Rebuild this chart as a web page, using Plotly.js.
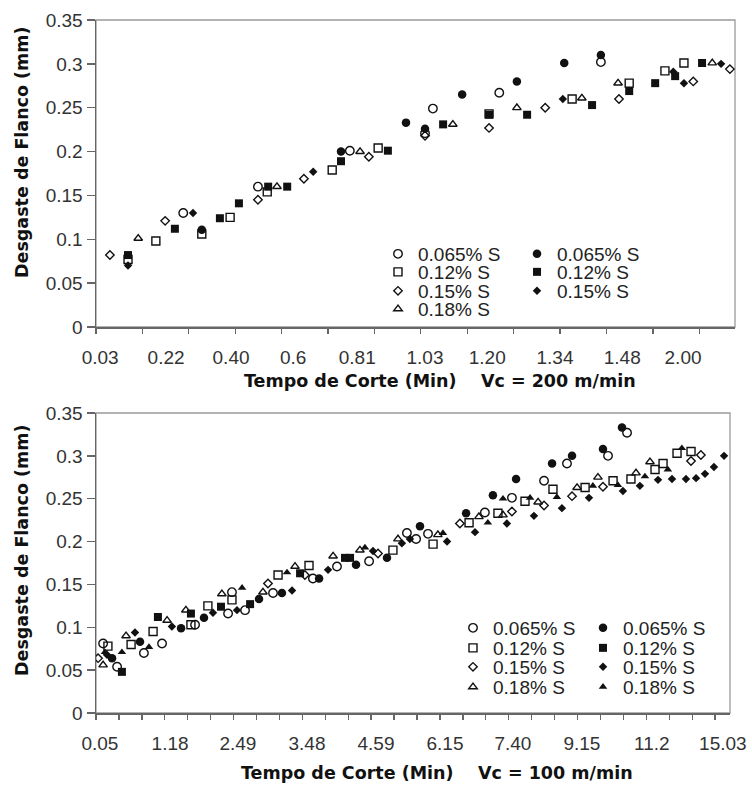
<!DOCTYPE html>
<html><head><meta charset="utf-8">
<script src="https://cdn.plot.ly/plotly-3.0.1.min.js"></script>
<style>html,body{margin:0;padding:0;background:#fff}#chart{width:752px;height:785px}</style>
</head><body><div id="chart"></div>
<script>
// ---- labels ----
const seriesNames = ['0.065% S', '0.12% S', '0.15% S', '0.18% S'];
const ticksTop = ['0.03','0.22','0.40','0.6','0.81','1.03','1.20','1.34','1.48','2.00'];
const ticksBottom = ['0.05','1.18','2.49','3.48','4.59','6.15','7.40','9.15','11.2','15.03'];
const yTickVals = [0, 0.05, 0.1, 0.15, 0.2, 0.25, 0.3, 0.35];
const yTickText = ['0','0.05','0.1','0.15','0.2','0.25','0.3','0.35'];
const yTitle = 'Desgaste de Flanco (mm)';
const xTitleTop = 'Tempo de Corte (Min)\u00a0\u00a0\u00a0\u00a0Vc = 200 m/min';
const xTitleBottom = 'Tempo de Corte (Min)\u00a0\u00a0\u00a0\u00a0Vc = 100 m/min';

// ---- Vc = 200 m/min (x = position along the cutting-time axis) ----
const v200_open065_x = [1.88,3.49,5.47,7.09,7.26,8.69,10.88];
const v200_open065_y = [0.130,0.160,0.201,0.221,0.249,0.267,0.302];
const v200_open012_x = [0.69,1.29,2.28,2.89,3.69,5.09,6.08,8.47,10.26,11.49,12.26,12.67];
const v200_open012_y = [0.077,0.098,0.106,0.125,0.154,0.179,0.204,0.243,0.260,0.278,0.292,0.301];
const v200_open015_x = [0.30,1.49,3.49,4.48,5.88,7.09,8.47,9.68,11.27,12.87,13.66];
const v200_open015_y = [0.082,0.121,0.145,0.169,0.194,0.218,0.227,0.250,0.260,0.280,0.294];
const v200_open018_x = [0.91,3.90,5.69,7.69,9.07,10.47,11.25,13.28];
const v200_open018_y = [0.101,0.160,0.200,0.231,0.250,0.261,0.278,0.301];
const v200_fill065_x = [2.28,5.28,6.68,7.09,7.89,9.07,10.09,10.88];
const v200_fill065_y = [0.111,0.200,0.233,0.226,0.265,0.280,0.301,0.310];
const v200_fill012_x = [0.69,1.70,2.67,3.08,3.71,4.12,5.28,6.29,7.48,8.47,9.29,10.69,11.49,12.05,12.48,13.06];
const v200_fill012_y = [0.082,0.112,0.124,0.141,0.160,0.160,0.189,0.201,0.231,0.242,0.242,0.253,0.269,0.278,0.286,0.301];
const v200_fill015_x = [0.69,2.09,4.68,10.06,12.44,12.67,13.47];
const v200_fill015_y = [0.070,0.130,0.177,0.260,0.291,0.278,0.300];

// ---- Vc = 100 m/min ----
const v100_open065_x = [0.31,0.92,2.09,2.88,4.32,5.76,5.93,6.50,7.72,9.46,10.51,11.91,13.56,13.96,14.48,16.96,18.14,19.54,20.54,22.33,23.16];
const v100_open065_y = [0.081,0.054,0.070,0.081,0.103,0.116,0.141,0.120,0.140,0.157,0.171,0.177,0.210,0.203,0.209,0.234,0.251,0.271,0.291,0.300,0.327];
const v100_open012_x = [0.52,1.53,2.49,4.14,4.88,5.93,7.94,9.29,12.95,14.70,16.27,17.53,18.71,19.93,21.33,22.55,23.33,24.38,24.73,25.34,25.95];
const v100_open012_y = [0.078,0.080,0.095,0.103,0.125,0.132,0.161,0.172,0.190,0.197,0.222,0.233,0.247,0.261,0.263,0.271,0.273,0.284,0.291,0.303,0.305];
const v100_open015_x = [0.09,7.50,9.11,12.30,15.87,18.14,19.54,20.76,22.11,25.95,26.38];
const v100_open015_y = [0.064,0.151,0.161,0.186,0.221,0.235,0.242,0.253,0.264,0.294,0.301];
const v100_open018_x = [0.31,1.31,3.10,3.92,5.49,7.28,8.68,10.34,11.51,13.17,14.91,16.70,17.75,19.28,20.98,21.89,23.55,24.16];
const v100_open018_y = [0.056,0.090,0.108,0.120,0.139,0.141,0.171,0.183,0.190,0.203,0.208,0.229,0.231,0.246,0.263,0.275,0.280,0.293];
const v100_fill065_x = [0.70,1.92,3.71,4.71,7.11,8.11,9.73,11.34,12.69,14.13,16.14,17.31,18.32,19.89,20.76,22.11,22.94];
const v100_fill065_y = [0.064,0.083,0.099,0.111,0.133,0.140,0.157,0.173,0.181,0.218,0.233,0.254,0.273,0.291,0.300,0.308,0.333];
const v100_fill012_x = [1.13,2.70,4.14,5.45,6.72,8.90,10.86,11.08];
const v100_fill012_y = [0.048,0.112,0.116,0.124,0.127,0.163,0.181,0.181];
const v100_fill015_x = [0.48,1.70,3.31,5.10,6.15,8.55,10.12,12.08,13.34,13.69,15.31,16.53,17.92,19.10,20.32,21.50,22.98,23.72,24.51,25.12,25.73,26.17,26.56,26.95,27.39];
const v100_fill015_y = [0.068,0.094,0.101,0.117,0.120,0.143,0.167,0.189,0.198,0.203,0.200,0.211,0.221,0.230,0.239,0.251,0.259,0.265,0.272,0.273,0.273,0.274,0.279,0.287,0.300];
const v100_fill018_x = [0.39,1.13,2.31,6.37,8.33,11.73,15.13,17.09,17.75,18.93,20.10,21.67,22.76,23.94,24.94,25.55];
const v100_fill018_y = [0.071,0.071,0.077,0.146,0.164,0.193,0.210,0.222,0.250,0.251,0.252,0.265,0.266,0.276,0.284,0.309];

// ---- styling / layout ----
const INK = '#111';
const shapes = ['circle','square','diamond','triangle-up'];
const sizes = {circle: 8.5, square: 8, diamond: 6.5, 'triangle-up': 7.5};

function tr(x, y, idx, filled, xa, ya, legend) {
  const sym = shapes[idx];
  return {
    type: 'scatter', mode: 'markers', x: x, y: y, xaxis: xa, yaxis: ya,
    name: seriesNames[idx], legend: legend, showlegend: true,
    marker: {
      symbol: filled ? sym : sym + '-open',
      size: sizes[sym], color: INK,
      line: {width: filled ? 0 : 1.4, color: INK}
    },
    hoverinfo: 'x+y+name'
  };
}

const data = [
  tr(v200_open065_x, v200_open065_y, 0, false, 'x', 'y', 'legend'),
  tr(v200_fill065_x, v200_fill065_y, 0, true, 'x', 'y', 'legend'),
  tr(v200_open012_x, v200_open012_y, 1, false, 'x', 'y', 'legend2'),
  tr(v200_fill012_x, v200_fill012_y, 1, true, 'x', 'y', 'legend2'),
  tr(v200_open015_x, v200_open015_y, 2, false, 'x', 'y', 'legend3'),
  tr(v200_fill015_x, v200_fill015_y, 2, true, 'x', 'y', 'legend3'),
  tr(v200_open018_x, v200_open018_y, 3, false, 'x', 'y', 'legend4'),

  tr(v100_open065_x, v100_open065_y, 0, false, 'x2', 'y2', 'legend5'),
  tr(v100_fill065_x, v100_fill065_y, 0, true, 'x2', 'y2', 'legend5'),
  tr(v100_open012_x, v100_open012_y, 1, false, 'x2', 'y2', 'legend6'),
  tr(v100_fill012_x, v100_fill012_y, 1, true, 'x2', 'y2', 'legend6'),
  tr(v100_open015_x, v100_open015_y, 2, false, 'x2', 'y2', 'legend7'),
  tr(v100_fill015_x, v100_fill015_y, 2, true, 'x2', 'y2', 'legend7'),
  tr(v100_open018_x, v100_open018_y, 3, false, 'x2', 'y2', 'legend8'),
  tr(v100_fill018_x, v100_fill018_y, 3, true, 'x2', 'y2', 'legend8')
];

const W = 752, H = 785;
const px = v => v / W;
const py = v => 1 - v / H;
const tickFont = {family: 'Liberation Sans, Arial, sans-serif', size: 19, color: '#333'};
const titleFont = {family: 'DejaVu Sans, Verdana, sans-serif', size: 17.5, color: '#111', weight: 'bold'};
const legFont = {family: 'Liberation Sans, Arial, sans-serif', size: 19, color: '#222'};
const AX = '#666';

function xAxis(domain, range, labelPos, labels, anchor, nMinor) {
  return {
    domain: domain, range: range, anchor: anchor, fixedrange: true,
    tickmode: 'array', tickvals: labelPos, ticktext: labels, ticks: '',
    ticklabelstandoff: 13, tickfont: tickFont,
    minor: {tickmode: 'linear', tick0: 0, dtick: 1, ticks: 'outside', ticklen: 5, tickwidth: 1.3, tickcolor: AX, showgrid: false},
    showline: true, linecolor: AX, linewidth: 1.5, showgrid: false, zeroline: false, automargin: false
  };
}
function yAxis(domain, anchor) {
  return {
    domain: domain, range: [0, 0.35], anchor: anchor, fixedrange: true,
    tickmode: 'array', tickvals: yTickVals, ticktext: yTickText,
    ticks: 'outside', ticklen: 8, tickwidth: 1.3, tickcolor: AX, tickfont: tickFont,
    showline: true, linecolor: AX, linewidth: 1.5, showgrid: false, zeroline: false, automargin: false
  };
}

const topLabelPos = [0.09,1.51,2.91,4.25,5.63,7.09,8.43,9.89,11.34,12.65];
const botLabelPos = [0.17,3.23,6.19,9.20,12.21,15.22,18.18,21.19,24.24,27.34];

function leg(xText, yc, ew) {
  return {
    orientation: 'h', x: px(xText - 40), y: py(yc), xanchor: 'left', yanchor: 'middle',
    entrywidth: ew, entrywidthmode: 'pixels', font: legFont,
    bgcolor: 'rgba(0,0,0,0)', borderwidth: 0, itemclick: false, itemdoubleclick: false,
    tracegroupgap: 0
  };
}

const layout = {
  width: W, height: H,
  margin: {l: 0, r: 0, t: 0, b: 0},
  paper_bgcolor: '#fff', plot_bgcolor: '#fff',
  showlegend: true,
  xaxis: xAxis([px(96), px(735)], [0, 13.77], topLabelPos, ticksTop, 'y'),
  yaxis: yAxis([1 - 327 / H, 1 - 20 / H], 'x'),
  xaxis2: xAxis([px(96), px(730)], [0, 27.65], botLabelPos, ticksBottom, 'y2'),
  yaxis2: yAxis([1 - 713 / H, 1 - 413 / H], 'x2'),
  legend: leg(418, 254, 94),
  legend2: leg(418, 272, 94),
  legend3: leg(418, 291, 94),
  legend4: leg(418, 309, 94),
  legend5: leg(493, 628, 85),
  legend6: leg(493, 648, 85),
  legend7: leg(493, 667, 85),
  legend8: leg(493, 687, 85),
  shapes: [
    {type: 'rect', xref: 'x domain', yref: 'y domain', x0: 0, x1: 1, y0: 0, y1: 1, line: {color: '#9a9a9a', width: 1.3}, layer: 'below'},
    {type: 'rect', xref: 'x2 domain', yref: 'y2 domain', x0: 0, x1: 1, y0: 0, y1: 1, line: {color: '#9a9a9a', width: 1.3}, layer: 'below'}
  ],
  annotations: [
    {text: yTitle, textangle: -90, xref: 'paper', yref: 'paper', x: px(22), y: py(152), showarrow: false, font: titleFont, xanchor: 'center', yanchor: 'middle'},
    {text: yTitle, textangle: -90, xref: 'paper', yref: 'paper', x: px(22), y: py(550), showarrow: false, font: titleFont, xanchor: 'center', yanchor: 'middle'},
    {text: xTitleTop, xref: 'paper', yref: 'paper', x: px(440), y: py(381), showarrow: false, font: titleFont, xanchor: 'center', yanchor: 'middle'},
    {text: xTitleBottom, xref: 'paper', yref: 'paper', x: px(437), y: py(773), showarrow: false, font: titleFont, xanchor: 'center', yanchor: 'middle'}
  ]
};

Plotly.newPlot('chart', data, layout, {displayModeBar: false, staticPlot: true});
</script></body></html>
